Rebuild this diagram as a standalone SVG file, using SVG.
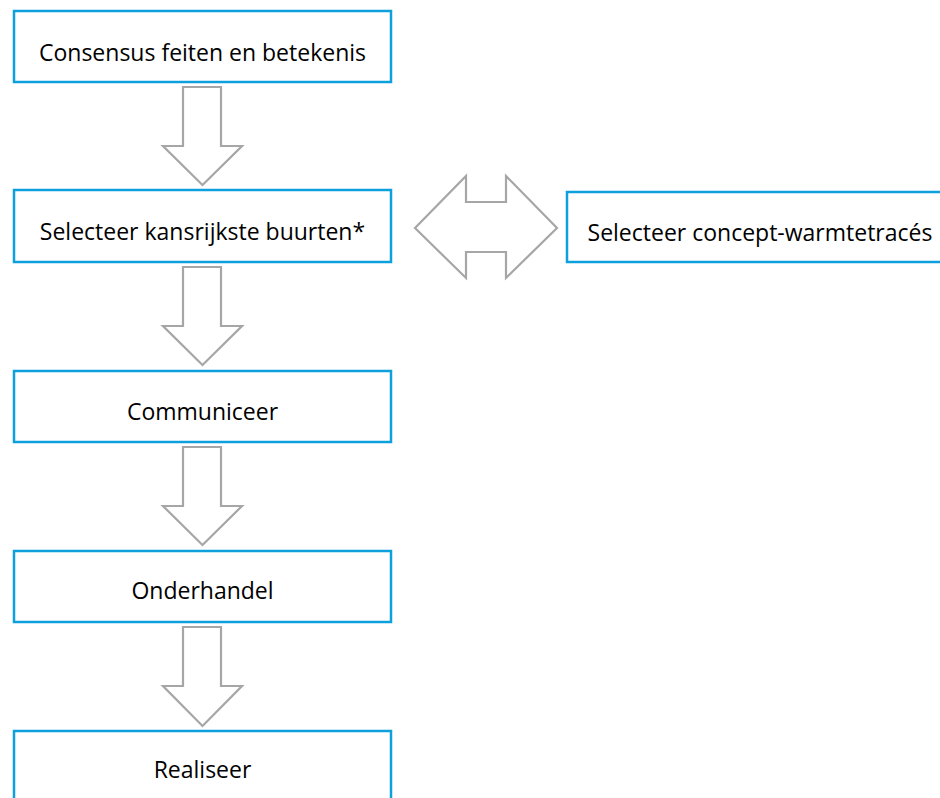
<svg xmlns="http://www.w3.org/2000/svg" width="940" height="798" viewBox="0 0 940 798">
  <style>
    .box { fill: #ffffff; stroke: #0ea0dc; stroke-width: 2.5; }
    .arrow { fill: #ffffff; stroke: #a6a6a6; stroke-width: 2.2; stroke-linejoin: miter; }
    .label { font-family: "Open Sans", "Liberation Sans", sans-serif; font-size: 23px; fill: #000000; text-anchor: middle; }
  </style>
  <rect width="940" height="798" fill="#ffffff"/>

  <!-- connectors: hollow block arrows -->
  <g id="connectors">
    <polygon class="arrow" points="183,87 221,87 221,146 242,146 202.5,185 163,146 183,146"/>
    <polygon class="arrow" points="183,267 221,267 221,326 242,326 202.5,365 163,326 183,326"/>
    <polygon class="arrow" points="183,447 221,447 221,506 242,506 202.5,545 163,506 183,506"/>
    <polygon class="arrow" points="183,627 221,627 221,686 242,686 202.5,726 163,686 183,686"/>
    <polygon class="arrow" points="415,228 466,176 466,202 506,202 506,176 557,228 506,278 506,252 466,252 466,278"/>
  </g>

  <g id="node-consensus">
    <rect class="box" x="14" y="11" width="377" height="71"/>
    <text class="label" x="202.5" y="61">Consensus feiten en betekenis</text>
  </g>
  <g id="node-selecteer-buurten">
    <rect class="box" x="14" y="190" width="377" height="72"/>
    <text class="label" x="202.5" y="240">Selecteer kansrijkste buurten*</text>
  </g>
  <g id="node-selecteer-traces">
    <rect class="box" x="567" y="192" width="400" height="70"/>
    <text class="label" x="760" y="241">Selecteer concept-warmtetracés</text>
  </g>
  <g id="node-communiceer">
    <rect class="box" x="14" y="371" width="377" height="71"/>
    <text class="label" x="202.5" y="420">Communiceer</text>
  </g>
  <g id="node-onderhandel">
    <rect class="box" x="14" y="551" width="377" height="71"/>
    <text class="label" x="202.5" y="599">Onderhandel</text>
  </g>
  <g id="node-realiseer">
    <rect class="box" x="14" y="731" width="377" height="80"/>
    <text class="label" x="202.5" y="778">Realiseer</text>
  </g>
</svg>
